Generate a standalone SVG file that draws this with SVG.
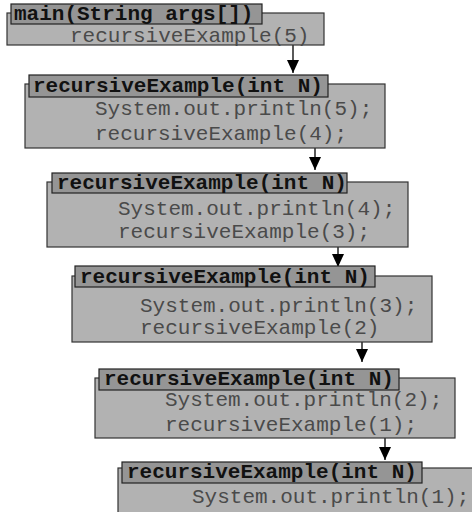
<svg xmlns="http://www.w3.org/2000/svg" width="472" height="512" viewBox="0 0 472 512">
<defs>
<marker id="ah" markerUnits="userSpaceOnUse" markerWidth="14" markerHeight="12" refX="13" refY="6" orient="auto" viewBox="0 0 14 12">
<path d="M0,0 L13,6 L0,12 Z" fill="#000"/>
</marker>
</defs>
<style>
.box{fill:#b2b2b2;stroke:#333;stroke-width:1.2}
.tab{fill:#959595;stroke:#222;stroke-width:1.2}
.hd{font-family:"Liberation Mono","Courier New",monospace;font-weight:bold;font-size:21px;fill:#111}
.bd{font-family:"Liberation Mono","Courier New",monospace;font-size:21px;fill:#4a4a4a}
.con{stroke:#000;stroke-width:1.3;fill:none}
</style>
<rect width="472" height="512" fill="#fff"/>
<g id="connectors">
<line class="con" x1="293" y1="45" x2="293" y2="73" marker-end="url(#ah)"/>
<line class="con" x1="315" y1="148" x2="315" y2="170" marker-end="url(#ah)"/>
<line class="con" x1="338" y1="247" x2="338" y2="267" marker-end="url(#ah)"/>
<line class="con" x1="362" y1="342" x2="362" y2="362" marker-end="url(#ah)"/>
<line class="con" x1="385" y1="438" x2="385" y2="460" marker-end="url(#ah)"/>
</g>
<g id="main">
<rect class="box" x="7" y="13" width="317" height="32"/>
<rect class="tab" x="11" y="4" width="251" height="20"/>
<text class="hd" x="14" y="20">main(String args[])</text>
<text class="bd" x="70" y="42">recursiveExample(5)</text>
</g>
<g id="call5">
<rect class="box" x="25" y="84" width="360" height="64"/>
<rect class="tab" x="29" y="75" width="299" height="22"/>
<text class="hd" x="33" y="92">recursiveExample(int N)</text>
<text class="bd" x="95" y="115">System.out.println(5);</text>
<text class="bd" x="95" y="140">recursiveExample(4);</text>
</g>
<g id="call4">
<rect class="box" x="47" y="182" width="361" height="65"/>
<rect class="tab" x="52" y="173" width="295" height="20"/>
<text class="hd" x="57" y="189">recursiveExample(int N)</text>
<text class="bd" x="118" y="215">System.out.println(4);</text>
<text class="bd" x="118" y="238">recursiveExample(3);</text>
</g>
<g id="call3">
<rect class="box" x="72" y="276" width="360" height="66"/>
<rect class="tab" x="75" y="266" width="300" height="21"/>
<text class="hd" x="80" y="283">recursiveExample(int N)</text>
<text class="bd" x="140" y="312">System.out.println(3);</text>
<text class="bd" x="140" y="334">recursiveExample(2)</text>
</g>
<g id="call2">
<rect class="box" x="95" y="378" width="360" height="60"/>
<rect class="tab" x="99" y="369" width="300" height="21"/>
<text class="hd" x="104" y="385">recursiveExample(int N)</text>
<text class="bd" x="165" y="406">System.out.println(2);</text>
<text class="bd" x="165" y="431">recursiveExample(1);</text>
</g>
<g id="call1">
<rect class="box" x="118" y="468" width="360" height="60"/>
<rect class="tab" x="122" y="462" width="300" height="21"/>
<text class="hd" x="127" y="478">recursiveExample(int N)</text>
<text class="bd" x="192" y="503">System.out.println(1);</text>
</g>
</svg>
